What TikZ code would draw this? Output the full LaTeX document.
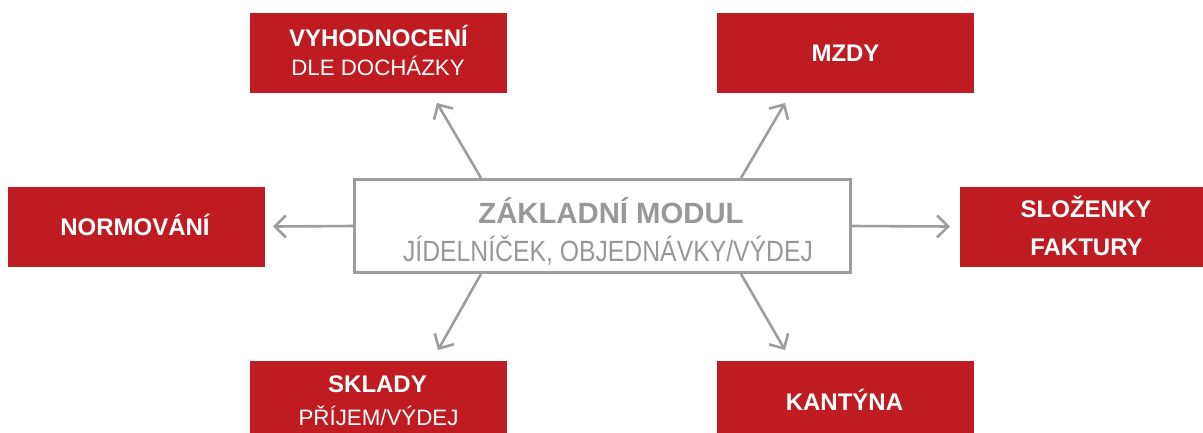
\documentclass[tikz,border=0pt]{standalone}
\usepackage{fontspec}
\setmainfont{Liberation Sans}
\newfontfamily\condf{Liberation Sans}[FakeStretch=0.845]
\usetikzlibrary{arrows.meta}
\definecolor{bred}{HTML}{BE1C22}
\definecolor{lgray}{HTML}{9D9DA1}
\definecolor{tgray}{HTML}{98989B}
\tikzset{
  redbox/.style={fill=bred, draw=none, minimum width=257pt, minimum height=80pt, inner sep=0pt},
  mainbox/.style={draw=lgray, line width=3pt, fill=white, minimum width=496pt, minimum height=93pt, inner sep=0pt},
  btxt/.style={anchor=base, text=white, inner sep=0pt, font=\fontsize{24}{28}\selectfont\bfseries},
  rtxt/.style={anchor=base, text=white, inner sep=0pt, font=\fontsize{22.3}{26}\selectfont},
  arr/.style={draw=lgray, line width=2.6pt, line join=miter, -{Straight Barb[length=11pt,width=22pt]}}
}
\begin{document}
\begin{tikzpicture}[x=1pt,y=-1pt]
\useasboundingbox (0,0) rectangle (1203,432);
\clip (0,0) rectangle (1203,432);
% boxes
\node[redbox] (v) at (378.5,52.5) {};
\node[redbox] (m) at (845.5,52.5) {};
\node[redbox] (n) at (136,227) {};
\node[redbox] (s) at (1088.5,227) {};
\node[redbox] (k) at (378.5,401) {};
\node[redbox] (q) at (845.5,401) {};
\node[mainbox] (c) at (602.5,226) {};
% texts
\node[btxt] (v1) at (378.5,46.7) {VYHODNOCENÍ};
\node[rtxt] (v2) at (378,75) {DLE DOCHÁZKY};
\node[btxt] (m1) at (845.5,61) {MZDY};
\node[btxt] (n1) at (135,235) {NORMOVÁNÍ};
\node[btxt] (s1) at (1086,217.3) {SLOŽENKY};
\node[btxt] (s2) at (1086.5,255) {FAKTURY};
\node[btxt] (k1) at (377.5,392.7) {SKLADY};
\node[rtxt] (k2) at (378.5,425.7) {PŘÍJEM/VÝDEJ};
\node[btxt] (q1) at (844.5,410) {KANTÝNA};
\node[anchor=base, text=tgray, inner sep=0pt, font=\fontsize{29.3}{34}\selectfont\bfseries] (c1) at (611,223) {ZÁKLADNÍ MODUL};
\node[anchor=base, text=tgray, inner sep=0pt, font=\fontsize{29.3}{34}\selectfont\condf] (c2) at (608,261) {JÍDELNÍČEK, OBJEDNÁVKY/VÝDEJ};
% arrow ends
\coordinate (tv) at (437,103);
\coordinate (tm) at (785,103);
\coordinate (tn) at (273,226.5);
\coordinate (ts) at (950,226.5);
\coordinate (tk) at (438,350);
\coordinate (tq) at (785,350);
% connectors
\draw[arr] ([xshift=128pt]c.north west) -- (tv);
\draw[arr] ([xshift=-111pt]c.north east) -- (tm);
\draw[arr] (c.west) -- (tn);
\draw[arr] (c.east) -- (ts);
\draw[arr] ([xshift=128pt]c.south west) -- (tk);
\draw[arr] ([xshift=-111pt]c.south east) -- (tq);
\end{tikzpicture}
\end{document}
